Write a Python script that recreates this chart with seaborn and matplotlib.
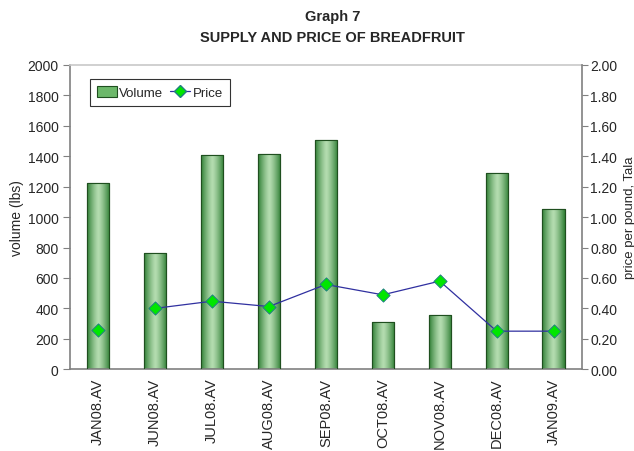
import numpy as np
import pandas as pd
import matplotlib
matplotlib.use("Agg")
import matplotlib.pyplot as plt
import seaborn as sns
from matplotlib.lines import Line2D
from matplotlib.patches import Rectangle

months = ["JAN08.AV", "JUN08.AV", "JUL08.AV", "AUG08.AV", "SEP08.AV",
          "OCT08.AV", "NOV08.AV", "DEC08.AV", "JAN09.AV"]
volume = [1222, 763, 1410, 1414, 1506, 307, 353, 1287, 1050]
price = [0.26, 0.40, 0.447, 0.412, 0.557, 0.489, 0.579, 0.25, 0.25]

sns.set_style("white")
plt.rcParams["font.family"] = ["Liberation Sans", "DejaVu Sans"]

df = pd.DataFrame({"month": months, "volume": volume, "price": price})

fig = plt.figure(figsize=(6.34, 4.52), dpi=100)
ax = fig.add_axes([0.110, 0.181, 0.808, 0.673])

sns.barplot(data=df, x="month", y="volume", ax=ax, width=0.39,
            color="#5aa85a", edgecolor="#1f4f1f", linewidth=0.8, zorder=2)

# horizontal gradient inside each bar: dark edges, light middle
grad = np.abs(np.linspace(-1, 1, 256)) ** 1.3
grad = np.tile(grad, (2, 1))
cmap = matplotlib.colors.LinearSegmentedColormap.from_list(
    "g", ["#b4dcb0", "#2f7f34"])
for p in ax.patches:
    x0, y0 = p.get_x(), p.get_y()
    w, h = p.get_width(), p.get_height()
    im = ax.imshow(grad, cmap=cmap, aspect="auto", extent=[x0, x0 + w, y0, y0 + h],
                   zorder=2.5, interpolation="bilinear")
    im.set_clip_path(p)
    ax.add_patch(Rectangle((x0, y0), w, h, fill=False, edgecolor="#1f4f1f",
                           linewidth=0.8, zorder=3))

ax.set_xlim(-0.5, len(months) - 0.5)
ax.set_ylim(0, 2000)
ax.set_yticks(np.arange(0, 2001, 200))
ax.set_ylabel("volume (lbs)", fontsize=10)
ax.yaxis.set_label_coords(-0.09, 0.5)
ax.set_xlabel("")
ax.set_xticks(range(len(months)))
ax.set_xticklabels(months, rotation=90, fontsize=10.5)
ax.set_xticks(np.arange(0.5, len(months) - 0.5, 1), minor=True)
ax.tick_params(axis="x", which="major", length=0, pad=6)
ax.tick_params(axis="x", which="minor", length=5, direction="out", color="#808080")
ax.tick_params(axis="y", length=5, direction="out", color="#808080", labelsize=10, pad=3)
ax.autoscale(False)

for s in ["left", "bottom"]:
    ax.spines[s].set_color("#808080")
    ax.spines[s].set_linewidth(1.2)
ax.spines["top"].set_color("#c8c8c8")
ax.spines["top"].set_linewidth(1.2)
ax.spines["right"].set_visible(False)

ax2 = ax.twinx()
x = np.arange(len(months))
# first point stands alone (gap in the line)
ax2.plot(x[1:], price[1:], color="#3030a0", linewidth=0.9, zorder=4)
ax2.scatter(x, price, marker="D", s=45, color="#00e600", edgecolor="#208080",
            linewidths=0.7, zorder=5)
ax2.set_ylim(0, 2.0)
ax2.set_yticks(np.arange(0, 2.01, 0.2))
ax2.set_yticklabels([f"{v:.2f}" for v in np.arange(0, 2.01, 0.2)], fontsize=10)
ax2.set_ylabel("price per pound, Tala", fontsize=9.5)
ax2.yaxis.set_label_coords(1.081, 0.5)
ax2.tick_params(axis="y", length=4, direction="out", color="#808080", pad=2)
for s in ["left", "top", "bottom"]:
    ax2.spines[s].set_visible(False)
ax2.spines["right"].set_color("#808080")
ax2.spines["right"].set_linewidth(1.2)

handles = [Rectangle((0, 0), 1, 1, facecolor="#6cb86a", edgecolor="#1f4f1f", linewidth=0.8),
           Line2D([], [], color="#3030a0", linewidth=0.9, marker="D", markersize=6,
                  markerfacecolor="#00e600", markeredgecolor="#208080")]
leg = ax.legend(handles, ["Volume", "Price"], loc="upper left",
                bbox_to_anchor=(0.039, 0.955), ncol=2, fontsize=9.5,
                frameon=True, fancybox=False, edgecolor="black",
                handlelength=1.5, handleheight=0.9, handletextpad=0.2,
                columnspacing=0.5, borderpad=0.55, borderaxespad=0)
leg.get_frame().set_linewidth(0.8)
leg.set_zorder(10)

fig.text(0.525, 0.963, "Graph 7", ha="center", va="center", fontsize=10.5, fontweight="bold")
fig.text(0.525, 0.916, "SUPPLY AND PRICE OF BREADFRUIT", ha="center", va="center",
         fontsize=10.5, fontweight="bold")

fig.savefig("out.png", dpi=100)
